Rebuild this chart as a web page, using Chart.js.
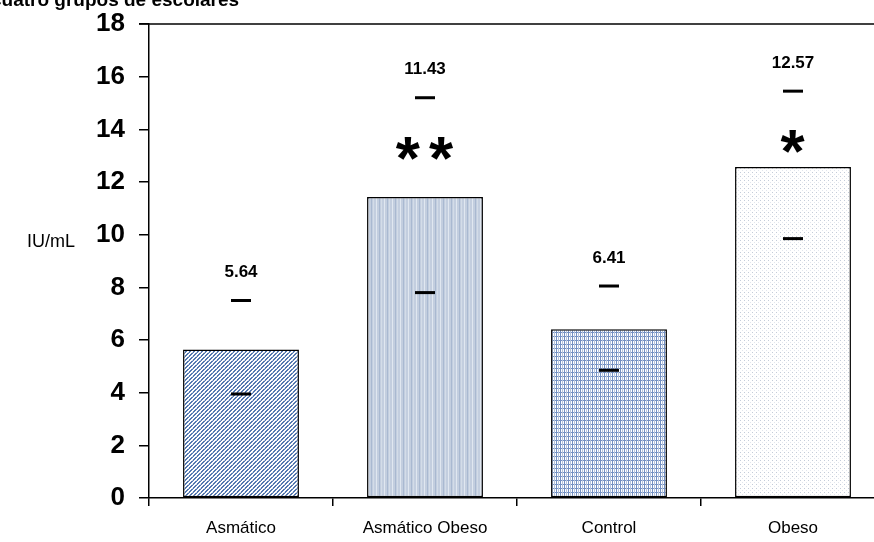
<!DOCTYPE html>
<html>
<head>
<meta charset="utf-8">
<script src="https://cdn.jsdelivr.net/npm/chart.js@4/dist/chart.umd.min.js"></script>
<style>
    html, body { margin: 0; padding: 0; background: #fff; overflow: hidden; }
    #wrap { width: 874px; height: 542px; overflow: hidden; }
</style>
</head>
<body>
<div id="wrap"><canvas id="igeChart" width="886" height="542"></canvas></div>
<script>
// Grupos y valores medios (IU/mL)
const grupos = ['Asmático', 'Asmático Obeso', 'Control', 'Obeso'];
const medias = [5.64, 11.43, 6.41, 12.57];
// extremos de la barra de error (superior / inferior)
const errSuperior = [7.5, 15.2, 8.05, 15.45];
const errInferior = [3.95, 7.8, 4.85, 9.85];
// marcas de significancia
const significancia = ['', '**', '', '*'];
const ticksY = [0, 2, 4, 6, 8, 10, 12, 14, 16, 18];

const titulo = 'cuatro grupos de escolares';
const tituloEjeY = 'IU/mL';

const fuente = '"Liberation Sans", Arial, sans-serif';

// tramas de relleno para cada barra
function crearTrama(size, dibujar) {
    const c = document.createElement('canvas');
    c.width = size;
    c.height = size;
    const g = c.getContext('2d');
    dibujar(g, size);
    return g.createPattern(c, 'repeat');
}

const tramaDiagonal = crearTrama(4, (g, s) => {
    g.fillStyle = '#ffffff';
    g.fillRect(0, 0, s, s);
    g.fillStyle = '#5478b0';
    for (let x = 0; x < s; x++) {
        for (let y = 0; y < s; y++) {
            if ((x + y) % 4 < 2) g.fillRect(x, y, 1, 1);
        }
    }
    g.fillStyle = '#a9bbd8';
    g.fillRect(0, 0, 1, 1);
});

const tramaVertical = crearTrama(8, (g, s) => {
    g.fillStyle = '#c3cedf';
    g.fillRect(0, 0, s, s);
    g.fillStyle = '#e0e7f0';
    g.fillRect(0, 0, 1, s);
    g.fillStyle = '#a9b9d1';
    g.fillRect(3, 0, 1, s);
    g.fillStyle = '#d3dce8';
    g.fillRect(5, 0, 1, s);
});

const tramaCuadricula = crearTrama(4, (g, s) => {
    g.fillStyle = '#ffffff';
    g.fillRect(0, 0, s, s);
    g.fillStyle = '#7390c2';
    g.fillRect(0, 0, 1, s);
    g.fillRect(0, 0, s, 1);
    g.fillStyle = '#b4c4de';
    g.fillRect(2, 0, 1, s);
});

const tramaPuntos = crearTrama(4, (g, s) => {
    g.fillStyle = '#ffffff';
    g.fillRect(0, 0, s, s);
    g.fillStyle = '#c4ccd9';
    g.fillRect(0, 0, 1, 1);
    g.fillStyle = '#e2e6ed';
    g.fillRect(2, 2, 1, 1);
});

const tramas = [tramaDiagonal, tramaVertical, tramaCuadricula, tramaPuntos];

// barras de error, valores, asteriscos, título y borde superior
const anotaciones = {
    id: 'anotaciones',
    afterDatasetsDraw(chart) {
        const ctx = chart.ctx;
        const x = chart.scales.x;
        const y = chart.scales.y;
        const area = chart.chartArea;
        ctx.save();

        // línea superior del área
        ctx.strokeStyle = '#000';
        ctx.lineWidth = 1.5;
        ctx.beginPath();
        ctx.moveTo(area.left - 10, area.top);
        ctx.lineTo(area.right, area.top);
        ctx.stroke();

        medias.forEach((m, i) => {
            const cx = x.getPixelForValue(i);
            const ySup = y.getPixelForValue(errSuperior[i]);
            const yInf = y.getPixelForValue(errInferior[i]);

            ctx.fillStyle = '#000';
            ctx.fillRect(cx - 10, ySup - 1.5, 20, 3);
            ctx.fillRect(cx - 10, yInf - 1.5, 20, 3);

            ctx.font = 'bold 17px ' + fuente;
            ctx.textAlign = 'center';
            ctx.textBaseline = 'middle';
            ctx.fillText(m.toFixed(2), cx, ySup - 28);

            if (significancia[i]) {
                ctx.font = 'bold 62px ' + fuente;
                ctx.textBaseline = 'alphabetic';
                ctx.letterSpacing = '9px';
                ctx.fillText(significancia[i], cx + 4, ySup + 46 + 35);
                ctx.letterSpacing = '0px';
            }
        });

        ctx.font = 'bold 19px ' + fuente;
        ctx.textAlign = 'left';
        ctx.textBaseline = 'alphabetic';
        ctx.fillText(titulo, -9, 6);

        ctx.font = '18px ' + fuente;
        ctx.textBaseline = 'middle';
        ctx.fillText(tituloEjeY, 27, 242);

        ctx.restore();
    }
};

new Chart(document.getElementById('igeChart'), {
    type: 'bar',
    data: {
        labels: grupos,
        datasets: [{
            data: medias,
            backgroundColor: tramas,
            borderColor: '#000',
            borderWidth: 1.5,
            borderSkipped: false,
            barPercentage: 0.63,
            categoryPercentage: 1
        }]
    },
    options: {
        responsive: false,
        animation: false,
        devicePixelRatio: 1,
        layout: { padding: { top: 24, right: 1, left: 0, bottom: 0 } },
        plugins: {
            legend: { display: false },
            tooltip: { enabled: false }
        },
        scales: {
            x: {
                grid: {
                    offset: true,
                    drawOnChartArea: false,
                    drawTicks: true,
                    tickLength: 8,
                    color: '#000',
                    lineWidth: 1.5
                },
                border: { display: true, color: '#000', width: 1.5 },
                ticks: {
                    color: '#000',
                    padding: 12,
                    font: { family: fuente, size: 17 }
                },
                afterFit(scale) {
                    scale.height = 44;
                    scale.paddingLeft = 0;
                    scale.paddingRight = 0;
                }
            },
            y: {
                min: 0,
                max: 18,
                afterBuildTicks(scale) {
                    scale.ticks = ticksY.map(v => ({ value: v }));
                },
                grid: {
                    drawOnChartArea: false,
                    drawTicks: true,
                    tickLength: 10,
                    color: '#000',
                    lineWidth: 1.5
                },
                border: { display: true, color: '#000', width: 1.5 },
                ticks: {
                    color: '#000',
                    padding: 14,
                    font: { family: fuente, size: 26, weight: 'bold' }
                },
                afterFit(scale) {
                    scale.width = 149;
                    scale.paddingTop = 0;
                    scale.paddingBottom = 0;
                }
            }
        }
    },
    plugins: [anotaciones]
});
</script>
</body>
</html>
